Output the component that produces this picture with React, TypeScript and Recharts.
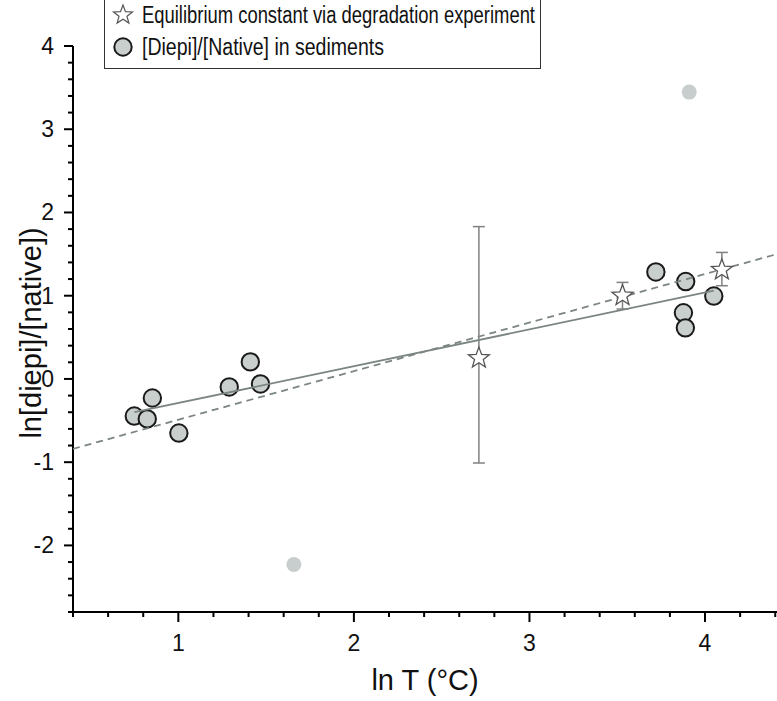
import { ErrorBar, Scatter, ScatterChart, XAxis, YAxis } from "recharts";

const FONT = '"Liberation Sans", Arial, Helvetica, sans-serif';

// equilibrium constants from the degradation experiment (stars)
const starX = [2.712, 3.53, 4.096];
const starY = [0.25, 1.0, 1.31];
const starErrLow = [1.26, 0.16, 0.19];
const starErrHigh = [1.58, 0.16, 0.21];

// [Diepi]/[Native] in sediments (circles)
const sedX = [0.749, 0.823, 0.852, 1.003, 1.29, 1.41, 1.468, 3.72, 3.877, 3.888, 3.89, 4.05];
const sedY = [-0.446, -0.48, -0.229, -0.65, -0.096, 0.205, -0.06, 1.285, 0.795, 0.614, 1.17, 0.996];

// excluded points (light grey)
const outX = [1.658, 3.91];
const outY = [-2.23, 3.446];

// fit lines (end points)
const sedFitX = [0.75, 4.05];
const sedFitY = [-0.4, 1.06];
const allFitX = [0.4, 4.41];
const allFitY = [-0.84, 1.5];

const legendLabels = [
    "Equilibrium constant via degradation experiment",
    "[Diepi]/[Native] in sediments",
];
const legendWidths = [393, 242];

const xTicks: number[] = [];
for (let i = 2; i <= 22; i++) xTicks.push(i / 5);
const yTicks: number[] = [];
for (let i = -14; i <= 20; i++) yTicks.push(i / 5);

const isMajor = (v: number) => Math.abs(v - Math.round(v)) < 1e-6;

const starData = starX.map((x, i) => ({
    x,
    y: starY[i],
    err: [starErrLow[i], starErrHigh[i]],
}));
const sedData = sedX.map((x, i) => ({ x, y: sedY[i] }));
const outData = outX.map((x, i) => ({ x, y: outY[i] }));
const sedFit = sedFitX.map((x, i) => ({ x, y: sedFitY[i] }));
const allFit = allFitX.map((x, i) => ({ x, y: allFitY[i] }));

const starPoints = (cx: number, cy: number, r: number) => {
    const pts: string[] = [];
    for (let k = 0; k < 10; k++) {
        const rad = k % 2 === 0 ? r : r * 0.42;
        const a = -Math.PI / 2 + (k * Math.PI) / 5;
        pts.push(`${cx + rad * Math.cos(a)},${cy + rad * Math.sin(a)}`);
    }
    return pts.join(" ");
};

const StarShape = (props: any) => (
    <polygon
        points={starPoints(props.cx, props.cy, 11)}
        fill="#ffffff"
        stroke="#555"
        strokeWidth={1.3}
    />
);

const CircleShape = (props: any) => (
    <circle cx={props.cx} cy={props.cy} r={8.7} fill="#c9cfcd" stroke="#1a1a1a" strokeWidth={2} />
);

const OutlierShape = (props: any) => (
    <circle cx={props.cx} cy={props.cy} r={7.5} fill="#c8cdcd" />
);

const NoShape = () => null;

const XTick = ({ x, y, payload }: any) => {
    const major = isMajor(payload.value);
    return (
        <g>
            <line x1={x} y1={y} x2={x} y2={y + (major ? 10 : 5)} stroke="#000" strokeWidth={2} />
            {major && (
                <text x={x} y={y + 39} textAnchor="middle" fontSize={23} fontFamily={FONT} fill="#111">
                    {Math.round(payload.value)}
                </text>
            )}
        </g>
    );
};

const YTick = ({ x, y, payload }: any) => {
    const major = isMajor(payload.value);
    return (
        <g>
            <line x1={x} y1={y} x2={x - (major ? 9 : 5)} y2={y} stroke="#000" strokeWidth={2} />
            {major && (
                <text x={x - 19} y={y + 8} textAnchor="end" fontSize={23} fontFamily={FONT} fill="#111">
                    {Math.round(payload.value)}
                </text>
            )}
        </g>
    );
};

const XTitle = () => (
    <text x={425} y={690} textAnchor="middle" fontSize={29} fontFamily={FONT} fill="#111">
        ln T (°C)
    </text>
);

const YTitle = () => (
    <text
        x={0}
        y={0}
        transform="translate(41, 333) rotate(-90)"
        textAnchor="middle"
        fontSize={29}
        fontFamily={FONT}
        fill="#111"
    >
        ln[diepi]/[native])
    </text>
);

const LegendBox = () => (
    <svg
        width={673}
        height={72}
        overflow="visible"
        style={{ position: "absolute", left: 104, top: 0, display: "block", pointerEvents: "none" }}
    >
        <rect x={0.5} y={-1} width={436} height={69.5} fill="#fff" stroke="#333" strokeWidth={1} />
        {legendLabels.map((label, i) => {
            const cy = 15 + i * 32;
            return (
                <g key={label}>
                    {i === 0 ? (
                        <polygon points={starPoints(19, cy, 10)} fill="#fff" stroke="#555" strokeWidth={1.2} />
                    ) : (
                        <circle cx={19} cy={cy} r={8.7} fill="#c9cfcd" stroke="#1a1a1a" strokeWidth={2} />
                    )}
                    <text
                        x={38}
                        y={cy + 8}
                        fontSize={23}
                        fontFamily={FONT}
                        fill="#111"
                        textLength={legendWidths[i]}
                        lengthAdjust="spacingAndGlyphs"
                    >
                        {label}
                    </text>
                </g>
            );
        })}
    </svg>
);

const App = () => {
    return (
        <div style={{ position: "absolute", left: 0, top: 0, width: 777, height: 701, background: "#fff" }}>
            <ScatterChart width={777} height={701} margin={{ top: 46, right: 0, bottom: 0, left: 0 }}>
                <XAxis
                    type="number"
                    dataKey="x"
                    domain={[0.4, 4.41]}
                    ticks={xTicks}
                    interval={0}
                    height={89}
                    tickSize={0}
                    tickMargin={0}
                    tick={XTick}
                    axisLine={{ stroke: "#000", strokeWidth: 2 }}
                    allowDataOverflow
                    label={XTitle}
                />
                <YAxis
                    type="number"
                    dataKey="y"
                    domain={[-2.8, 4]}
                    ticks={yTicks}
                    interval={0}
                    width={73}
                    tickSize={0}
                    tickMargin={0}
                    tick={YTick}
                    axisLine={{ stroke: "#000", strokeWidth: 2 }}
                    allowDataOverflow
                    label={YTitle}
                />
                <Scatter data={outData} shape={OutlierShape} isAnimationActive={false} />
                <Scatter data={sedData} shape={CircleShape} isAnimationActive={false} />
                <Scatter
                    data={allFit}
                    shape={NoShape}
                    line={{ stroke: "#7b8584", strokeWidth: 1.8, strokeDasharray: "7 5" }}
                    isAnimationActive={false}
                />
                <Scatter
                    data={sedFit}
                    shape={NoShape}
                    line={{ stroke: "#7b8584", strokeWidth: 1.8 }}
                    isAnimationActive={false}
                />
                <Scatter data={starData} shape={StarShape} isAnimationActive={false}>
                    <ErrorBar dataKey="err" direction="y" width={6} stroke="#808080" strokeWidth={1.5} />
                </Scatter>
            </ScatterChart>
            <LegendBox />
        </div>
    );
};

export default App;
